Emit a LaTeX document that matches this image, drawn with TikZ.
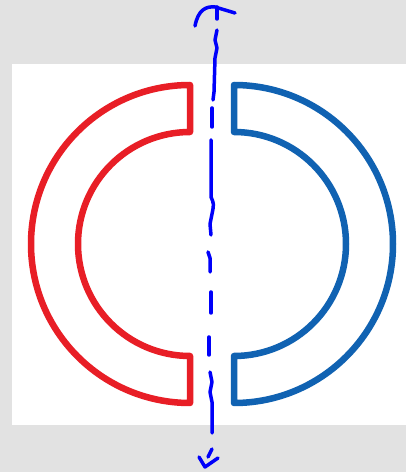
\documentclass[tikz,border=0pt]{standalone}
\usepackage{xcolor}
\usetikzlibrary{math}
\definecolor{myred}{RGB}{232, 30, 38}
\definecolor{myblue}{RGB}{16, 98, 178}
\definecolor{mypen}{RGB}{0, 0, 250}
\definecolor{mygray}{RGB}{226, 226, 226}

\begin{document}
\begin{tikzpicture}[x=1pt,y=1pt]
\tikzmath{
\R=159;
\r=112;
\yc=228;
\xl=190;
\xr=234;
\w=6.5;
}
\useasboundingbox (0,0) rectangle (406,472);
\fill[mygray] (0,0) rectangle (406,472);
\fill[white] (12,47) rectangle (406,408);

%%%%%%%%%%   left half ring
\draw[myred,line width=\w pt,line join=round] (\xl,\yc+\R) arc[start angle=90,end angle=270,radius=\R] -- (\xl,\yc-\r) arc[start angle=270,end angle=90,radius=\r] -- cycle;

%%%%%%%%%%   right half ring
\draw[myblue,line width=\w pt,line join=round] (\xr,\yc+\R) arc[start angle=90,end angle=-90,radius=\R] -- (\xr,\yc-\r) arc[start angle=-90,end angle=90,radius=\r] -- cycle;

%%%%%%%%%%   axis, drawn by hand
\begin{scope}[mypen,line width=3.5pt,line cap=round,line join=round]
\draw (195,446) .. controls (198,462) and (206,466) .. (215,465) -- (235,459);
\draw (217,465) -- (217,453);
\draw (217,442) -- (215,432) -- (217,424) -- (215,414) -- (214,380) -- (213,372);
\draw (212,364) -- (212,345);
\draw (211,332) -- (211,275) .. controls (214,268) .. (212,258) -- (210,248) -- (211,237);
\draw (208,220) -- (210,214) -- (210,200);
\draw (211,180) -- (211,159);
\draw (209,135) -- (209,117);
\draw (210,100) -- (212,90) -- (210,80) -- (212,70) -- (212,39);
\draw (212,23) -- (208,15);
\draw (199,15) -- (205,5) -- (218,14);
\end{scope}
\end{tikzpicture}
\end{document}
